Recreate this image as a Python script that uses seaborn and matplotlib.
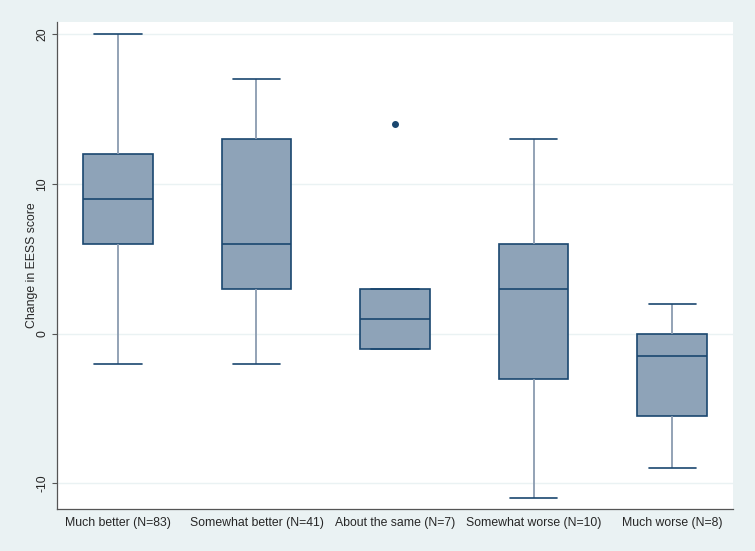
import matplotlib
matplotlib.use("Agg")
import matplotlib.pyplot as plt
import seaborn as sns
import pandas as pd

categories = ["Much better (N=83)", "Somewhat better (N=41)", "About the same (N=7)",
              "Somewhat worse (N=10)", "Much worse (N=8)"]
# values chosen so the box statistics match the reference (min, q1, median, q3, max)
much_better = [-2, 6, 9, 12, 20]
somewhat_better = [-2, 3, 6, 13, 17]
about_same = [-1, -1, -1, 1, 3, 3, 14]
somewhat_worse = [-11, -3, 3, 6, 13]
much_worse = [-9, -5.5, -1.5, 0, 2]

groups = [much_better, somewhat_better, about_same, somewhat_worse, much_worse]
rows = []
for cat, vals in zip(categories, groups):
    for v in vals:
        rows.append({"group": cat, "change": v})
df = pd.DataFrame(rows)

sns.set_style("white")
plt.rcParams["font.family"] = ["Liberation Sans", "DejaVu Sans"]

bg = "#eaf2f3"
fill = "#8ea3b8"
navy = "#1a476f"
whisk = "#8a9bb0"

fig = plt.figure(figsize=(7.55, 5.51), dpi=100, facecolor=bg)
ax = fig.add_axes([57 / 755, 1 - 509 / 551, (733 - 57) / 755, (509 - 22) / 551])
ax.set_facecolor("white")

sns.boxplot(data=df, x="group", y="change", order=categories, ax=ax,
            color=fill, saturation=1, width=0.5, linecolor=navy, linewidth=1,
            whiskerprops=dict(color=whisk, linewidth=1.3),
            capprops=dict(color=navy, linewidth=1.2),
            medianprops=dict(color=navy, linewidth=1.2),
            boxprops=dict(edgecolor=navy, linewidth=1.2),
            flierprops=dict(marker="o", markerfacecolor=navy, markeredgecolor=navy,
                            markersize=4),
            capwidths=0.34)

ax.set_xlim(-0.44, 4.44)
ax.set_ylim(-11.71, 20.82)
ax.set_yticks([-10, 0, 10, 20])
ax.set_yticklabels(["-10", "0", "10", "20"], rotation=90, va="center", fontsize=8.8)
ax.yaxis.grid(True, color=bg, linewidth=1)
ax.set_axisbelow(True)
ax.tick_params(axis="y", length=3.6, width=0.8, color="#555555", pad=2.5, left=True)
ax.tick_params(axis="x", length=0, pad=6, labelsize=8.8)
for s in ["top", "right"]:
    ax.spines[s].set_visible(False)
for s in ["left", "bottom"]:
    ax.spines[s].set_color("#555555")
    ax.spines[s].set_linewidth(0.9)
ax.set_xlabel("")
ax.set_ylabel("Change in EESS score", fontsize=8.8, labelpad=2)
ax.yaxis.set_label_coords(-(57 - 38) / 676, 0.5)

fig.savefig("out.png", dpi=100, facecolor=bg)
